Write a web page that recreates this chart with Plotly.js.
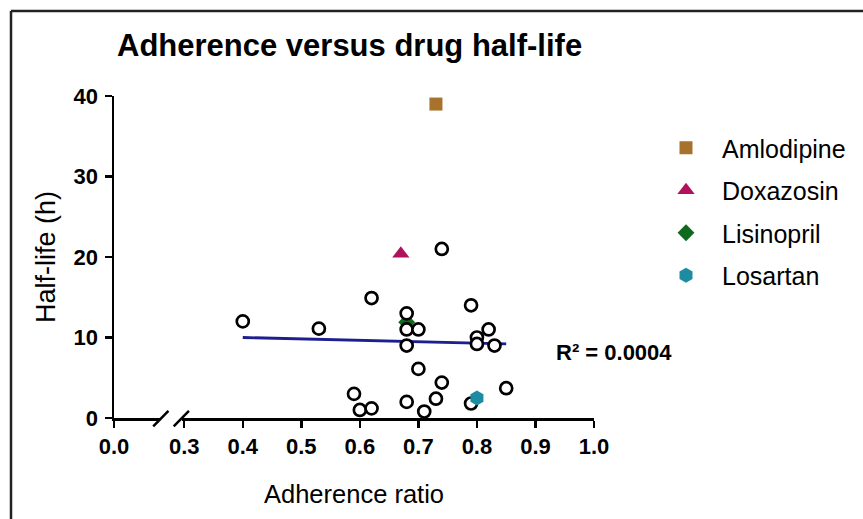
<!DOCTYPE html>
<html>
<head>
<meta charset="utf-8">
<script src="https://cdn.plot.ly/plotly-3.0.1.min.js"></script>
<style>
  html, body { margin: 0; padding: 0; background: #fff; }
  #chart { width: 863px; height: 519px; }
</style>
</head>
<body>
<div id="chart"></div>
<script>
// ---- data ----
var otherX = [0.40, 0.53, 0.62, 0.68, 0.68, 0.70, 0.68, 0.74, 0.79, 0.82, 0.80, 0.80, 0.83,
              0.70, 0.74, 0.85, 0.59, 0.60, 0.62, 0.68, 0.71, 0.73, 0.79];
var otherY = [12.0, 11.1, 14.9, 13.0, 11.0, 11.0, 9.0, 21.0, 14.0, 11.0, 10.0, 9.2, 9.0,
              6.1, 4.4, 3.7, 3.0, 1.0, 1.2, 2.0, 0.8, 2.4, 1.8];

var drugNames = ["Amlodipine", "Doxazosin", "Lisinopril", "Losartan"];
var drugX = [0.73, 0.67, 0.68, 0.80];
var drugY = [39.0, 20.4, 11.9, 2.5];

var fitX = [0.40, 0.85];
var fitY = [10.0, 9.2];

var xTickVals = [0.18, 0.3, 0.4, 0.5, 0.6, 0.7, 0.8, 0.9, 1.0];
var xTickText = ["0.0", "0.3", "0.4", "0.5", "0.6", "0.7", "0.8", "0.9", "1.0"];
var yTickVals = [0, 10, 20, 30, 40];

var r2Text = "R² = 0.0004";

// ---- styles ----
var FONT = "Arial, 'Liberation Sans', Helvetica, sans-serif";
var drugSymbols = ["square", "triangle-up", "diamond", "hexagon"];
var drugColors = ["#A6722C", "#B0125C", "#0E6A1E", "#1D8CA2"];
var drugSizes = [13, 15, 13, 15];
var drugRanks = [1, 2, 3, 4];

function drugTrace(i) {
  return {
    type: "scatter", mode: "markers",
    x: [drugX[i]], y: [drugY[i]], name: drugNames[i],
    legendgroup: drugNames[i], legendrank: drugRanks[i],
    marker: { symbol: drugSymbols[i], color: drugColors[i], size: drugSizes[i], line: { width: 0 } },
    cliponaxis: false
  };
}

var traces = [];
traces.push({
  type: "scatter", mode: "lines", x: fitX, y: fitY, showlegend: false,
  line: { color: "#1C1F8E", width: 2.8 }, hoverinfo: "skip"
});
traces.push(drugTrace(2)); // Lisinopril sits beneath the open circles
traces.push({
  type: "scatter", mode: "markers", x: otherX, y: otherY, showlegend: false,
  marker: { symbol: "circle", size: 12, color: "#ffffff", line: { color: "#000000", width: 2.7 } },
  cliponaxis: false
});
traces.push(drugTrace(0));
traces.push(drugTrace(1));
traces.push(drugTrace(3));

var layout = {
  width: 863, height: 519,
  paper_bgcolor: "#ffffff", plot_bgcolor: "#ffffff",
  margin: { l: 114, r: 269, t: 96, b: 101, pad: 0 },
  font: { family: FONT, color: "#000000" },
  title: {
    text: "<b>Adherence versus drug half-life</b>",
    font: { family: FONT, size: 31, color: "#000000" },
    x: 117 / 863, xanchor: "left", xref: "container",
    y: 1 - 45 / 519, yanchor: "middle", yref: "container"
  },
  xaxis: {
    range: [0.18, 1.0], autorange: false,
    tickmode: "array", tickvals: xTickVals, ticktext: xTickText,
    showgrid: false, zeroline: false,
    showline: true, linecolor: "#000000", linewidth: 2.5,
    ticks: "outside", ticklen: 7, tickwidth: 2.5, tickcolor: "#000000",
    tickfont: { family: FONT, size: 22, color: "#000000", weight: "bold" },
    ticklabelstandoff: 0,
    title: { text: "Adherence ratio", font: { family: FONT, size: 25.5, color: "#000000" }, standoff: 27 }
  },
  yaxis: {
    range: [0, 40], autorange: false,
    tickmode: "array", tickvals: yTickVals,
    showgrid: false, zeroline: false,
    showline: true, linecolor: "#000000", linewidth: 2.5,
    ticks: "outside", ticklen: 7, tickwidth: 2.5, tickcolor: "#000000",
    tickfont: { family: FONT, size: 22, color: "#000000", weight: "bold" },
    ticklabelstandoff: 2,
    title: { text: "Half-life (h)", font: { family: FONT, size: 27, color: "#000000" }, standoff: 10 }
  },
  showlegend: true,
  legend: {
    x: (650 - 114) / 480, xanchor: "left",
    y: (418 - 125) / 322, yanchor: "top",
    traceorder: "grouped", tracegroupgap: 7, itemwidth: 62,
    font: { family: FONT, size: 25, color: "#000000" },
    bgcolor: "rgba(0,0,0,0)", borderwidth: 0
  },
  annotations: [{
    text: "<b>" + r2Text + "</b>", xref: "paper", yref: "y",
    x: (614 - 114) / 480, y: 8.1, xanchor: "center", yanchor: "middle",
    showarrow: false, font: { family: FONT, size: 22, color: "#000000" }
  }],
  shapes: [
    // gap in the x axis for the break
    { type: "rect", xref: "x", yref: "paper", x0: 0.259, x1: 0.296, y0: -0.035, y1: 0.012,
      fillcolor: "#ffffff", line: { width: 0 }, layer: "above" },
    // break slashes
    { type: "line", xref: "x", yref: "paper", x0: 0.247, x1: 0.273, y0: -0.026, y1: 0.022,
      line: { color: "#000000", width: 2.5 }, layer: "above" },
    { type: "line", xref: "x", yref: "paper", x0: 0.282, x1: 0.308, y0: -0.026, y1: 0.022,
      line: { color: "#000000", width: 2.5 }, layer: "above" },
    // outer frame (left and top edges)
    { type: "line", xref: "paper", yref: "paper", x0: (11 - 114) / 480, x1: (11 - 114) / 480,
      y0: (418 - 530) / 322, y1: (418 - 11) / 322, line: { color: "#222222", width: 2.5 } },
    { type: "line", xref: "paper", yref: "paper", x0: (11 - 114) / 480, x1: (870 - 114) / 480,
      y0: (418 - 11) / 322, y1: (418 - 11) / 322, line: { color: "#222222", width: 2.5 } }
  ]
};

Plotly.newPlot("chart", traces, layout, { displayModeBar: false, staticPlot: true });
</script>
</body>
</html>
